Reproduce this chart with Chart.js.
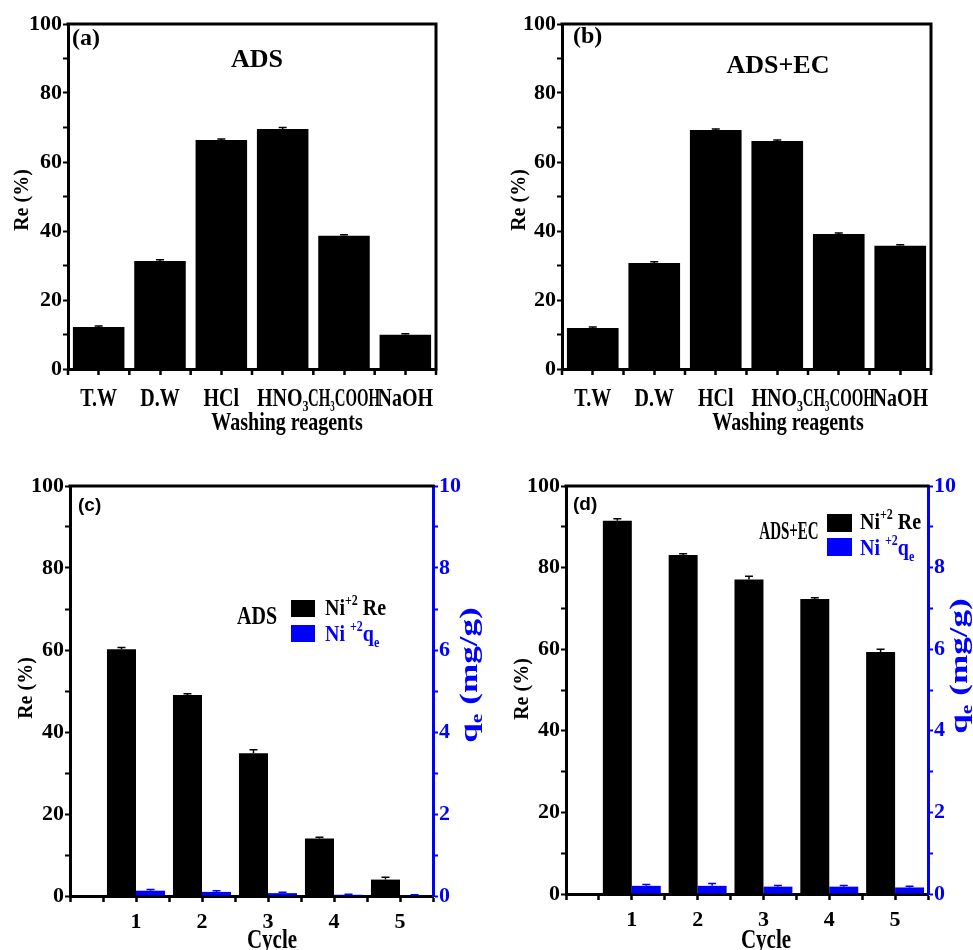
<!DOCTYPE html>
<html><head><meta charset="utf-8">
<script src="https://cdn.jsdelivr.net/npm/chart.js@4.4.1/dist/chart.umd.min.js"></script>
<style>
html,body{margin:0;padding:0;background:#fff;}
body{width:973px;height:950px;position:relative;overflow:hidden;}
canvas{position:absolute;}
</style></head><body>
<canvas id="ca" width="486" height="440" style="left:0;top:0;width:486px;height:440px"></canvas>
<canvas id="cb" width="487" height="440" style="left:486px;top:0;width:487px;height:440px"></canvas>
<canvas id="cc" width="486" height="480" style="left:0;top:470px;width:486px;height:480px"></canvas>
<canvas id="cd" width="487" height="480" style="left:486px;top:470px;width:487px;height:480px"></canvas>
<script>
// ---------- data ----------
const reagents = ['T.W', 'D.W', 'HCl', 'HNO₃', 'CH₃COOH', 'NaOH'];
const reAds = [12.2, 31.3, 66.4, 69.6, 38.6, 9.9];
const reAdsErr = [0.3, 0.4, 0.3, 0.4, 0.3, 0.3];
const reAdsEc = [11.9, 30.7, 69.3, 66.1, 39.1, 35.7];
const reAdsEcErr = [0.3, 0.4, 0.3, 0.3, 0.3, 0.3];
const cycles = [1, 2, 3, 4, 5];
const reCycleAds = [60.2, 49.0, 34.8, 14.0, 4.0];
const reCycleAdsErr = [0.4, 0.3, 0.9, 0.3, 0.6];
const qeCycleAds = [0.13, 0.10, 0.07, 0.03, 0.02];
const qeCycleAdsErr = [0.03, 0.03, 0.02, 0.01, 0.01];
const reCycleEc = [91.5, 83.1, 77.1, 72.3, 59.3];
const reCycleEcErr = [0.5, 0.3, 0.8, 0.3, 0.7];
const qeCycleEc = [0.20, 0.20, 0.18, 0.18, 0.16];
const qeCycleEcErr = [0.03, 0.06, 0.03, 0.03, 0.03];
const reTickLabels = [0, 20, 40, 60, 80, 100];
const qeTickLabels = [0, 2, 4, 6, 8, 10];
const cycleTickLabels = [1, 2, 3, 4, 5];

// ---------- styling ----------
const SERIF = "'Liberation Serif','Times New Roman',serif";
const SANS = "'Liberation Sans',Arial,sans-serif";
const BLUE = '#0000ff';
Chart.defaults.font.family = SERIF;
Chart.defaults.font.weight = 'bold';
Chart.defaults.font.size = 22;
Chart.defaults.color = '#000';

// draws a line of text made of segments (normal / super / subscript)
function richText(ctx, t) {
  ctx.save();
  ctx.translate(t.x, t.y);
  ctx.rotate(t.rot || 0);
  ctx.textBaseline = 'middle';
  ctx.textAlign = 'left';
  let w = 0;
  t.segs.forEach(g => {
    ctx.font = 'bold ' + g.s + 'px ' + (t.f || SERIF);
    g.w = ctx.measureText(g.t).width;
    w += g.w;
  });
  let sx = t.sx || 1;
  if (t.maxW && w * sx > t.maxW) sx = t.maxW / w;
  ctx.scale(sx, t.sy || 1);
  let cx = t.align === 'center' ? -w / 2 : (t.align === 'right' ? -w : 0);
  t.segs.forEach(g => {
    ctx.font = 'bold ' + g.s + 'px ' + (t.f || SERIF);
    ctx.fillStyle = t.color || '#000';
    ctx.fillText(g.t, cx, g.dy || 0);
    cx += g.w;
  });
  ctx.restore();
}

const SUBS = '₀₁₂₃₄₅₆₇₈₉';
function labelSegs(str, size) {
  const segs = [];
  for (const ch of str) {
    const k = SUBS.indexOf(ch);
    if (k >= 0) segs.push({ t: String(k), s: Math.round(size * 0.62), dy: size * 0.3 });
    else if (segs.length && segs[segs.length - 1].s === size) segs[segs.length - 1].t += ch;
    else segs.push({ t: ch, s: size });
  }
  return segs;
}

const errPlugin = {
  id: 'errbars',
  afterDatasetsDraw(chart) {
    const ctx = chart.ctx;
    chart.data.datasets.forEach((ds, i) => {
      if (!ds.errors) return;
      const meta = chart.getDatasetMeta(i);
      const sc = chart.scales[meta.yAxisID];
      ctx.save();
      ctx.strokeStyle = ds.backgroundColor;
      ctx.lineWidth = 1.5;
      meta.data.forEach((el, j) => {
        const v = ds.data[j];
        const val = (typeof v === 'object') ? v.y : v;
        const y1 = sc.getPixelForValue(val);
        const y2 = sc.getPixelForValue(val + ds.errors[j]);
        ctx.beginPath();
        ctx.moveTo(el.x, y1); ctx.lineTo(el.x, y2);
        ctx.moveTo(el.x - 4, y2); ctx.lineTo(el.x + 4, y2);
        ctx.stroke();
      });
      ctx.restore();
    });
  }
};

const decoCfg = {};
const decoPlugin = {
  id: 'deco',
  afterDraw(chart) {
    const cfg = decoCfg[chart.canvas.id];
    if (!cfg) return;
    const ctx = chart.ctx;
    const a = chart.chartArea;
    ctx.save();
    ctx.strokeStyle = '#000';
    ctx.lineWidth = 3;
    ctx.beginPath();
    ctx.moveTo(a.left - 1.5, a.top);
    ctx.lineTo(a.right + 1.5, a.top);
    if (cfg.rightLine) {
      ctx.moveTo(a.right, a.top);
      ctx.lineTo(a.right, a.bottom + 1.5);
    }
    ctx.stroke();
    if (cfg.catMinor) {
      const xs = chart.scales.x;
      ctx.lineWidth = 2.5;
      ctx.beginPath();
      for (let i = 0; i <= chart.data.labels.length; i++) {
        const px = xs.getPixelForValue(i - 0.5);
        ctx.moveTo(px, a.bottom);
        ctx.lineTo(px, a.bottom + 6);
      }
      ctx.stroke();
      // category tick labels (with real subscripts)
      chart.data.labels.forEach((lab, i) => {
        richText(ctx, { x: xs.getPixelForValue(i), y: a.bottom + 30, align: 'center', sy: 1.27, maxW: 72,
          segs: labelSegs(lab, 20) });
      });
    }
    (cfg.rects || []).forEach(r => {
      ctx.fillStyle = r.color;
      ctx.fillRect(r.x, r.y, r.w, r.h);
    });
    ctx.restore();
    (cfg.texts || []).forEach(t => richText(ctx, t));
  }
};

function fixW(w) { return s => { s.width = w; }; }
function fixH(h) { return s => { s.height = h; }; }

function yAxisRe(L) {
  return {
    min: 0, max: 100, afterFit: fixW(L),
    ticks: { stepSize: 10, autoSkip: false, padding: 1, color: '#000', font: { size: 22, weight: 'bold' },
      callback: v => reTickLabels.includes(v) ? String(v) : '' },
    grid: { drawOnChartArea: false, drawTicks: true, tickLength: 5, tickWidth: 2, tickColor: '#000' },
    border: { display: true, color: '#000', width: 3 }
  };
}

function topChart(id, values, errs, geo) {
  return new Chart(document.getElementById(id), {
    type: 'bar',
    data: { labels: reagents, datasets: [{ data: values, errors: errs, backgroundColor: '#000', borderWidth: 0, barPercentage: 0.84, categoryPercentage: 1 }] },
    options: {
      responsive: false, animation: false,
      layout: { padding: { top: geo.T, right: geo.W - geo.R, left: 0, bottom: 0 } },
      plugins: { legend: { display: false }, tooltip: { enabled: false } },
      scales: {
        x: {
          type: 'category', offset: true, afterFit: fixH(geo.H - geo.B),
          grid: { display: true, offset: false, drawOnChartArea: false, drawTicks: true, tickLength: 6, tickWidth: 2.5, tickColor: '#000' },
          border: { display: true, color: '#000', width: 3 },
          ticks: { display: false }
        },
        y: yAxisRe(geo.L)
      }
    },
    plugins: [errPlugin, decoPlugin]
  });
}

function cycleChart(id, re, reErr, qe, qeErr, geo) {
  // minor ticks every 0.5 halve the bar ruler, so the category share is doubled
  return new Chart(document.getElementById(id), {
    type: 'bar',
    data: { datasets: [
      { data: cycles.map((c, i) => ({ x: c, y: re[i] })), errors: reErr, backgroundColor: '#000', borderWidth: 0, yAxisID: 'y', barPercentage: 1, categoryPercentage: 1.76 },
      { data: cycles.map((c, i) => ({ x: c, y: qe[i] })), errors: qeErr, backgroundColor: BLUE, borderWidth: 0, yAxisID: 'y1', barPercentage: 1, categoryPercentage: 1.76 }
    ] },
    options: {
      responsive: false, animation: false,
      layout: { padding: { top: geo.T, right: 0, left: 0, bottom: 0 } },
      plugins: { legend: { display: false }, tooltip: { enabled: false } },
      scales: {
        x: {
          type: 'linear', min: 0, max: 5.5, offset: false, afterFit: fixH(geo.H - geo.B),
          grid: { display: true, offset: false, drawOnChartArea: false, drawTicks: true, tickLength: 6, tickWidth: 2.5, tickColor: '#000' },
          border: { display: true, color: '#000', width: 3 },
          ticks: { stepSize: 0.5, autoSkip: false, maxRotation: 0, minRotation: 0, padding: 7, color: '#000', font: { size: 22, weight: 'bold' },
            callback: v => cycleTickLabels.includes(v) ? String(v) : '' }
        },
        y: yAxisRe(geo.L),
        y1: {
          position: 'right', min: 0, max: 10, afterFit: fixW(geo.W - geo.R),
          ticks: { stepSize: 1, autoSkip: false, padding: 1, color: BLUE, font: { size: 22, weight: 'bold' },
            callback: v => qeTickLabels.includes(v) ? String(v) : '' },
          grid: { drawOnChartArea: false, drawTicks: true, tickLength: 5, tickWidth: 2, tickColor: BLUE },
          border: { display: true, color: BLUE, width: 3 }
        }
      }
    },
    plugins: [errPlugin, decoPlugin]
  });
}

const sup = (t) => ({ t: t, s: 12, dy: -7 });
const reLabel = (x, y) => ({ x: x, y: y, rot: -Math.PI / 2, align: 'center', segs: [{ t: 'Re (%)', s: 20 }] });
const qeLabel = (x, y) => ({ x: x, y: y, rot: -Math.PI / 2, align: 'center', color: BLUE, sx: 1.35,
  segs: [{ t: 'q', s: 26 }, { t: 'e', s: 16, dy: 8 }, { t: ' (mg/g)', s: 26 }] });
const legRe = (x, y) => ({ x: x, y: y, sy: 1.15, segs: [{ t: 'Ni', s: 20 }, sup('+2'), { t: ' Re', s: 20 }] });
const legQe = (x, y) => ({ x: x, y: y, sy: 1.15, color: BLUE, segs: [{ t: 'Ni ', s: 20 }, sup('+2'), { t: 'q', s: 20 }, { t: 'e', s: 12, dy: 7 }] });

decoCfg.ca = { rightLine: true, catMinor: true, texts: [
  { x: 72, y: 39, segs: [{ t: '(a)', s: 24 }] },
  { x: 257, y: 60, align: 'center', segs: [{ t: 'ADS', s: 26 }] },
  { x: 287, y: 423, align: 'center', sy: 1.26, segs: [{ t: 'Washing reagents', s: 20 }] },
  reLabel(23, 200)
] };
decoCfg.cb = { rightLine: true, catMinor: true, texts: [
  { x: 87, y: 37, segs: [{ t: '(b)', s: 24 }] },
  { x: 292, y: 66, align: 'center', segs: [{ t: 'ADS+EC', s: 26 }] },
  { x: 302, y: 423, align: 'center', sy: 1.26, segs: [{ t: 'Washing reagents', s: 20 }] },
  reLabel(34, 200)
] };
decoCfg.cc = { rightLine: false, rects: [
  { x: 291, y: 130, w: 24, h: 17, color: '#000' },
  { x: 291, y: 155, w: 24, h: 17, color: BLUE }
], texts: [
  { x: 78, y: 36, f: SANS, segs: [{ t: '(c)', s: 19 }] },
  { x: 257, y: 147, align: 'center', sy: 1.28, segs: [{ t: 'ADS', s: 20 }] },
  legRe(325, 139), legQe(325, 165),
  reLabel(27, 218), qeLabel(470, 205),
  { x: 272, y: 471, align: 'center', sy: 1.3, segs: [{ t: 'Cycle', s: 21 }] }
] };
decoCfg.cd = { rightLine: false, rects: [
  { x: 341, y: 44, w: 25, h: 18, color: '#000' },
  { x: 341, y: 68, w: 25, h: 18, color: BLUE }
], texts: [
  { x: 87, y: 35, f: SANS, segs: [{ t: '(d)', s: 19 }] },
  { x: 303, y: 62, align: 'center', sy: 1.7, segs: [{ t: 'ADS+EC', s: 15 }] },
  legRe(374, 53), legQe(374, 79),
  reLabel(37, 219), qeLabel(474, 196),
  { x: 280, y: 471, align: 'center', sy: 1.3, segs: [{ t: 'Cycle', s: 21 }] }
] };

topChart('ca', reAds, reAdsErr, { W: 486, H: 440, L: 68, R: 436, T: 24, B: 369 });
topChart('cb', reAdsEc, reAdsEcErr, { W: 487, H: 440, L: 76, R: 445, T: 24, B: 369 });
cycleChart('cc', reCycleAds, reCycleAdsErr, qeCycleAds, qeCycleAdsErr, { W: 486, H: 480, L: 70, R: 433, T: 16, B: 426 });
cycleChart('cd', reCycleEc, reCycleEcErr, qeCycleEc, qeCycleEcErr, { W: 487, H: 480, L: 80, R: 442, T: 16, B: 424 });
</script>
</body></html>
